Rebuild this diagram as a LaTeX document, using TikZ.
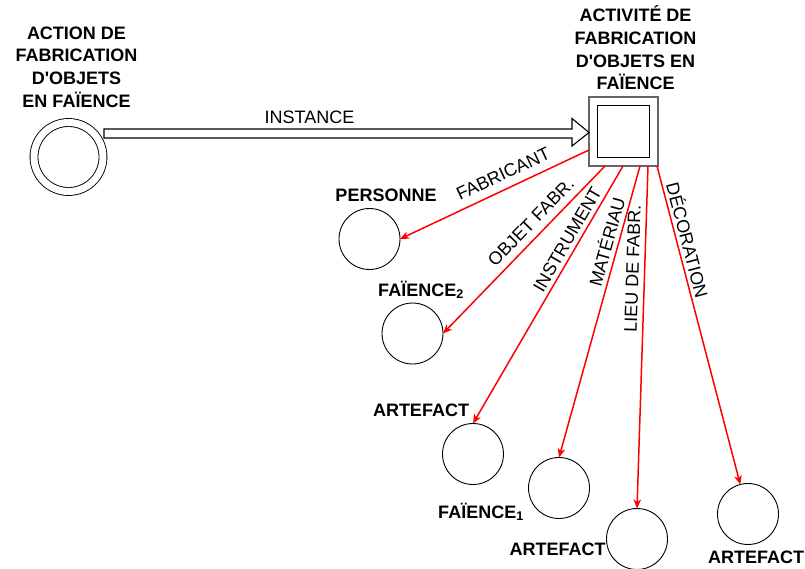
\documentclass[tikz,border=0pt]{standalone}
\usepackage{fontspec}
\setmainfont{Liberation Sans}[Ligatures=TeXOff]
\usetikzlibrary{arrows.meta}
\usetikzlibrary{calc}
\tikzset{circ/.style = {draw, circle, inner sep = 0, outer sep = 0, minimum size = 61, line width = 0.9}}
\tikzset{dcirc/.style = {draw, circle, inner sep = 0, outer sep = 0, minimum size = 69, line width = 0.9, double, double distance = 7}}
\tikzset{sq/.style = {draw = mgray, rectangle, inner sep = 0, outer sep = 0, minimum size = 69, line width = 1.5}}
\tikzset{sqin/.style = {draw, rectangle, inner sep = 0, outer sep = 0, minimum size = 52, line width = 1.2}}
\tikzset{rel/.style = {mred, line width = 1.5, -{Stealth[length = 9pt, width = 7.5pt, inset = 2.5pt]}}}
\tikzset{hollow/.style = {draw, fill = white, line width = 1.1, line join = miter}}
\tikzset{lbl/.style = {text = black, font = \fontsize{18}{22.7}\selectfont, inner sep = 2}}
\tikzset{blbl/.style = {font = \bfseries\fontsize{18}{22.7}\selectfont, inner sep = 0}}
\definecolor{mred}{rgb}{1, 0, 0}
\definecolor{mgray}{rgb}{0.4, 0.4, 0.4}

\begin{document}
\begin{tikzpicture}[x = 1pt, y = -1pt]
  \useasboundingbox (0, 0) rectangle (805, 569);
  % action and activity
  \node [dcirc] (action) at (68.5, 157) {};
  \node [sq] (activite) at (623.5, 131.5) {};
  \node [sqin] (activiteIn) at (activite) {};
  \node [blbl, align = center] (actionLbl) at (76.5, 67) {ACTION DE\\FABRICATION\\D'OBJETS\\EN FAÏENCE};
  \node [blbl, align = center] (activiteLbl) at (635.5, 48) {ACTIVITÉ DE\\FABRICATION\\D'OBJETS EN\\FAÏENCE};
  % instance arrow
  \coordinate (instSrc) at (104, 133.5);
  \draw [hollow] ($(instSrc) + (0, -4.5)$) -- ($(activite.west) + (-17, -2.5)$)
    -- ($(activite.west) + (-17, -13)$) -- ($(activite.west) + (0, 1)$)
    -- ($(activite.west) + (-17, 14.5)$) -- ($(activite.west) + (-17, 6.5)$)
    -- ($(instSrc) + (0, 4.5)$) -- cycle;
  \node [lbl, anchor = base] (instLbl) at (309.5, 124) {INSTANCE};
  % roles
  \node [circ] (personne) at (369.5, 239) {};
  \node [circ] (faience2) at (412.5, 333.5) {};
  \node [circ] (artefactA) at (473, 454) {};
  \node [circ] (faience1) at (559, 488) {};
  \node [circ] (artefactB) at (637, 539) {};
  \node [circ] (artefactC) at (748, 514) {};
  \node [blbl, anchor = base] (personneLbl) at (386, 201.5) {PERSONNE};
  \node [blbl, anchor = base] (faience2Lbl) at (421, 296) {FAÏENCE\textsubscript{2}};
  \node [blbl, anchor = base] (artefactALbl) at (421, 416.5) {ARTEFACT};
  \node [blbl, anchor = base] (faience1Lbl) at (481, 518) {FAÏENCE\textsubscript{1}};
  \node [blbl, anchor = base] (artefactBLbl) at (557.5, 555) {ARTEFACT};
  \node [blbl, anchor = base] (artefactCLbl) at (756, 563) {ARTEFACT};
  % red relations
  \coordinate (fab) at ($(activite.south west) + (0, -16)$);
  \coordinate (obj) at ($(activite.south west) + (16, 0)$);
  \coordinate (ins) at ($(activite.south west) + (34, 0)$);
  \coordinate (mat) at ($(activite.south west) + (51, 0)$);
  \coordinate (lieu) at ($(activite.south west) + (59, 0)$);
  \coordinate (deco) at ($(activite.south west) + (68, 0)$);
  \foreach \src/\dst/\txt/\pp/\sh in {fab/personne.east/FABRICANT/0.42/6pt,
      obj/faience2.east/OBJET FABR./0.395/5pt, ins/artefactA.north/INSTRUMENT/0.307/2pt,
      mat/faience1.north/MATÉRIAU/0.271/2pt, lieu/artefactB.north/LIEU DE FABR./0.30/3pt,
      deco/artefactC/DÉCORATION/0.242/1pt} {
    \draw [rel] (\src) -- node [lbl, sloped, above = \sh, pos = \pp] {\txt} (\dst);
  }
\end{tikzpicture}
\end{document}
